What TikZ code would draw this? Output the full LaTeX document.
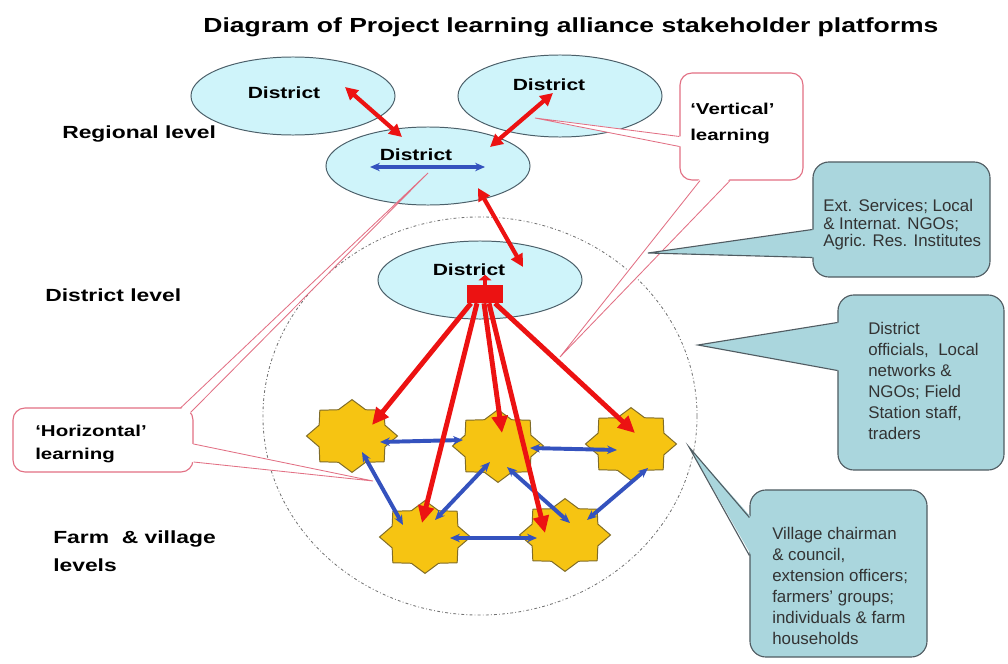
\documentclass[tikz,border=0pt]{standalone}
\usepackage{fontspec}
\setmainfont{Liberation Sans}
\newfontfamily\widesf{Liberation Sans}[FakeStretch=1.3]
\usetikzlibrary{shapes,arrows.meta,positioning,calc}

\definecolor{distfill}{RGB}{207,244,250}
\definecolor{distline}{RGB}{75,95,105}
\definecolor{notefill}{RGB}{170,214,221}
\definecolor{noteline}{RGB}{80,92,98}
\definecolor{pinkline}{RGB}{226,112,132}
\definecolor{starfill}{RGB}{246,196,18}
\definecolor{staredge}{RGB}{128,108,40}
\definecolor{linkred}{RGB}{236,18,18}
\definecolor{linkblue}{RGB}{52,82,190}

\begin{document}
\begin{tikzpicture}[
    x=0.025cm, y=-0.025cm,
    district/.style={ellipse, draw=distline, fill=distfill, line width=0.7pt, minimum width=5.1cm, minimum height=1.95cm},
    disttext/.style={font=\widesf\bfseries\fontsize{11.5}{13}\selectfont, anchor=base, inner sep=0pt},
    level/.style={font=\widesf\bfseries\fontsize{12.5}{20}\selectfont, anchor=north west, inner sep=0pt, align=left},
    village/.style={star, star points=8, star point ratio=1.28, draw=staredge, fill=starfill, line width=0.7pt, minimum size=1.82cm, inner sep=0pt},
    learnbox/.style={rectangle, rounded corners=0.3cm, draw=pinkline, fill=white, line width=0.8pt},
    learntext/.style={font=\widesf\bfseries\fontsize{11.2}{18.5}\selectfont, anchor=north west, inner sep=0pt, align=left},
    note/.style={rectangle, rounded corners=0.4cm, draw=noteline, fill=notefill, line width=0.8pt},
    notetext/.style={font=\fontsize{12}{15}\selectfont, anchor=north west, inner sep=0pt, align=left, text=black!80},
    uplink/.style={linkred, line width=3pt, {Triangle[length=9pt,width=9pt]}-{Triangle[length=9pt,width=9pt]}},
    downlink/.style={linkred, line width=3.5pt, -{Triangle[length=12pt,width=11pt]}},
    peerlink/.style={linkblue, line width=2.8pt, {Stealth[length=7pt,width=6pt]}-{Stealth[length=7pt,width=6pt]}},
]
\useasboundingbox (0,0) rectangle (1008,664);

% Title and level labels
\node[font=\widesf\bfseries\fontsize{14.5}{17}\selectfont, anchor=base, inner sep=0pt] (title) at (571,32) {Diagram of Project learning alliance stakeholder platforms};
\node[level] (regional) at (62,125) {Regional level};
\node[level] (distlevel) at (45,288) {District level};
\node[level] (farm) at (53,530) {Farm\ \ \& village\\levels};

% District platform boundary
\node[ellipse, draw=black!55, line width=0.6pt, dash pattern=on 2pt off 1.6pt on 0.6pt off 1.6pt, minimum width=10.85cm, minimum height=9.95cm] (ring) at (480,416) {};

% Districts
\node[district] (d1) at (293,96) {};
\node[district, minimum height=2.05cm] (d2) at (560,96) {};
\node[district] (d3) at (428,166) {};
\node[district] (d4) at (480,280) {};
\node[disttext] (d1t) at (284,98) {District};
\node[disttext] (d2t) at (549,90) {District};
\node[disttext] (d3t) at (416,160) {District};
\node[disttext] (d4t) at (469,275) {District};

% Learning callouts
\coordinate (vtip) at (560,357);
\coordinate (htip) at (373,481);
\node[learnbox, minimum width=3.075cm, minimum height=2.675cm] (vbox) at (741.5,126.5) {};
\fill[white] ($(vbox.south)+(-41.5,-2)$) -- (vtip) -- ($(vbox.south)+(-11.5,-2)$) -- cycle;
\draw[pinkline, line width=0.6pt] ($(vbox.south)+(-41.5,0)$) -- (vtip) -- ($(vbox.south)+(-11.5,0)$);
\fill[white] ($(vbox.west)+(2,10)$) -- ($(d2)+(-25,22)$) -- ($(vbox.west)+(2,20)$) -- cycle;
\draw[pinkline, line width=0.6pt] ($(vbox.west)+(0,10)$) -- ($(d2)+(-25,22)$) -- ($(vbox.west)+(0,20)$);
\node[learntext] (vtext) at (690,103) {‘Vertical’\\learning};

\node[learnbox, minimum width=4.5cm, minimum height=1.6cm] (hbox) at (103,440) {};
\fill[white] ($(hbox.north east)+(-13,2)$) -- ($(d3)+(0,7)$) -- ($(hbox.north east)+(-4,6)$) -- cycle;
\draw[pinkline, line width=0.6pt] ($(hbox.north east)+(-13,0.5)$) -- ($(d3)+(0,7)$) -- ($(hbox.north east)+(-3,5)$);
\fill[white] ($(hbox.east)+(-2,4)$) -- (htip) -- ($(hbox.east)+(-2,22)$) -- cycle;
\draw[pinkline, line width=0.6pt] ($(hbox.east)+(0,4)$) -- (htip) -- ($(hbox.east)+(0,22)$);
\node[learntext, font=\widesf\bfseries\fontsize{11.2}{16.4}\selectfont] (htext) at (35,425) {‘Horizontal’\\learning};

% Villages
\foreach \n/\x/\y in {s1/352/436, s2/498/446, s3/631/444, s4/425/537, s5/565/535}{
  \begin{scope}[shift={(\x,\y)}, xscale=1.25]
    \node[village, transform shape] (\n) at (0,0) {};
  \end{scope}
}

% Links between districts
\draw[uplink] ($(d1)+(52,-9)$) -- ($(d3)+(-26,-29)$);
\draw[uplink] ($(d3)+(62,-19)$) -- ($(d2)+(-7,-3)$);
\draw[uplink] ($(d3)+(50,22)$) -- ($(d4)+(43,-13)$);
\draw[peerlink] ($(d3)+(-58,1)$) -- ($(d3)+(57,1)$);

% Links between villages
\draw[peerlink] ($(s1)+(28,6)$) -- ($(s2)+(-35,-6)$);
\draw[peerlink] ($(s2)+(32,2)$) -- ($(s3)+(-14,6)$);
\draw[peerlink] ($(s4)+(25,1)$) -- ($(s5)+(-28,3)$);
\draw[peerlink] ($(s1)+(10,16)$) -- ($(s4)+(-22,-12)$);
\draw[peerlink] ($(s4)+(10,-17)$) -- ($(s2)+(-8,16)$);
\draw[peerlink] ($(s2)+(9,21)$) -- ($(s5)+(5,-12)$);
\draw[peerlink] ($(s5)+(22,-15)$) -- ($(s3)+(17,24)$);

% District hub to villages
\node[fill=linkred, minimum width=0.9cm, minimum height=0.45cm, inner sep=0pt] (hub) at (485,294) {};
\draw[linkred, line width=2.5pt, -{Triangle[length=4pt,width=9pt]}] (hub.north) -- ($(hub.north)+(0,-10)$);
\draw[downlink] ($(hub.south)+(-14,0)$) -- ($(s1)+(20,-11)$);
\draw[downlink] ($(hub.south)+(-8,0)$) -- ($(s4)+(-3,-14)$);
\draw[downlink] ($(hub.south)+(-1,0)$) -- ($(s2)+(4,-13)$);
\draw[downlink] ($(hub.south)+(4,0)$) -- ($(s5)+(-20,-2)$);
\draw[downlink] ($(hub.south)+(10,0)$) -- ($(s3)+(4,-11)$);

% Stakeholder notes
\coordinate (ntip1) at (648,253);
\coordinate (ntip2) at (698,345);
\coordinate (ntip3) at (689,447);

\node[note, minimum width=4.425cm, minimum height=2.875cm] (c1) at (901.5,219.5) {};
\fill[notefill] ($(c1.west)+(2,10)$) -- (ntip1) -- ($(c1.west)+(2,38)$) -- cycle;
\draw[noteline, line width=0.8pt] ($(c1.west)+(0,10)$) -- (ntip1) -- ($(c1.west)+(0,38)$);
\node[notetext, font=\fontsize{12}{12.5}\selectfont] (c1t) at (823,199) {Ext. Services; Local\\\& Internat. NGOs;\\Agric. Res. Institutes};

\node[note, minimum width=4.15cm, minimum height=4.375cm] (c2) at (921,382.5) {};
\fill[notefill] ($(c2.west)+(2,-60)$) -- (ntip2) -- ($(c2.west)+(2,-12)$) -- cycle;
\draw[noteline, line width=0.8pt] ($(c2.west)+(0,-60)$) -- (ntip2) -- ($(c2.west)+(0,-12)$);
\node[notetext] (c2t) at (868,322) {District\\officials,\ \ Local\\networks \&\\NGOs; Field\\Station staff,\\traders};

\node[note, minimum width=4.425cm, minimum height=4.175cm] (c3) at (838.5,573.5) {};
\fill[notefill] ($(c3.west)+(2,-56)$) -- (ntip3) -- ($(c3.west)+(2,-18)$) -- cycle;
\draw[noteline, line width=0.8pt] ($(c3.west)+(0,-56)$) -- (ntip3) -- ($(c3.west)+(0,-18)$);
\node[notetext] (c3t) at (772,527) {Village chairman\\\& council,\\extension officers;\\farmers' groups;\\individuals \& farm\\households};

\end{tikzpicture}
\end{document}
